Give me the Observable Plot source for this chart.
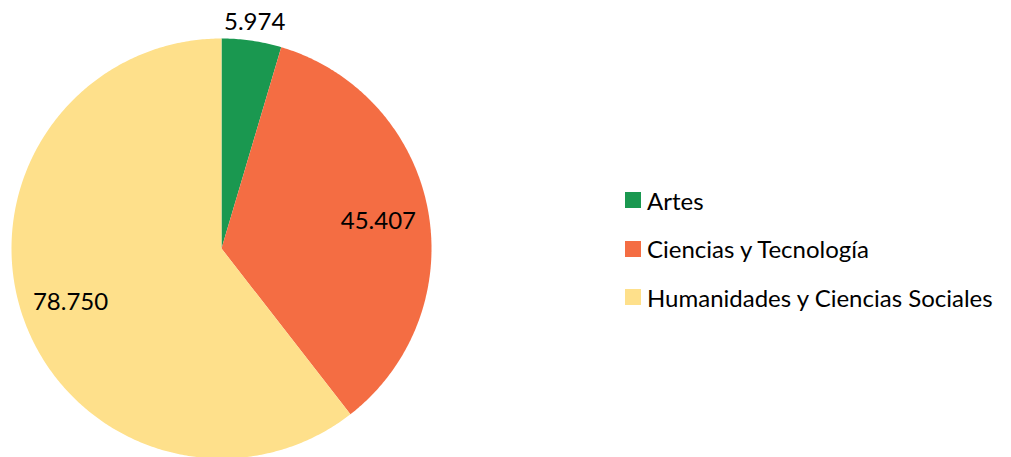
<!DOCTYPE html>
<html><head><meta charset="utf-8">
<script src="https://cdn.jsdelivr.net/npm/d3@7"></script>
<script src="https://cdn.jsdelivr.net/npm/@observablehq/plot@0.6"></script>
<style>
body{margin:0;background:#fff;font-family:Lato,"Open Sans",sans-serif;}
#wrap{position:relative;width:1011px;height:457px;overflow:hidden;}
#legend{position:absolute;left:625px;top:176px;font-size:24px;color:#000;}
.row{display:flex;align-items:center;height:48.5px;}
.sw{width:16px;height:16px;margin-right:6px;}
</style></head>
<body><div id="wrap"><div id="legend"></div></div>
<script>
const categories = ["Artes", "Ciencias y Tecnología", "Humanidades y Ciencias Sociales"];
const values = [5974, 45407, 78750];
const labels = ["5.974", "45.407", "78.750"];
const colors = ["#1a9850", "#f46d43", "#fee08b"];

const total = d3.sum(values);
const polys = [];
const texts = [];
let acc = 0;
categories.forEach((c, i) => {
  const a0 = acc / total * 2 * Math.PI;
  acc += values[i];
  const a1 = acc / total * 2 * Math.PI;
  polys.push({cat: c, x: 0, y: 0});
  const n = Math.max(4, Math.ceil((a1 - a0) / 0.01));
  for (let k = 0; k <= n; k++) {
    const a = a0 + (a1 - a0) * k / n;
    polys.push({cat: c, x: Math.sin(a), y: Math.cos(a)});
  }
  polys.push({cat: c, x: 0, y: 0});
  const am = (a0 + a1) / 2;
  const r = values[i] / total < 0.1 ? 1.1 : 0.76;
  texts.push({x: r * Math.sin(am), y: r * Math.cos(am), t: labels[i]});
});

const chart = Plot.plot({
  width: 1011, height: 457,
  marginLeft: 11, marginRight: 580, marginTop: 38, marginBottom: -1,
  x: {domain: [-1, 1], axis: null},
  y: {domain: [-1, 1], axis: null},
  color: {domain: categories, range: colors},
  style: {fontFamily: "Lato, 'Open Sans', sans-serif", background: "white", overflow: "visible"},
  marks: [
    Plot.line(polys, {x: "x", y: "y", z: "cat", fill: "cat", stroke: "none", curve: "linear-closed"}),
    Plot.text(texts, {x: "x", y: "y", text: "t", fontSize: 24, fill: "#000", dy: 2})
  ]
});
document.getElementById("wrap").prepend(chart);
const lg = document.getElementById("legend");
categories.forEach((c, i) => {
  const row = document.createElement("div"); row.className = "row";
  const sw = document.createElement("div"); sw.className = "sw"; sw.style.background = colors[i];
  const tx = document.createElement("span"); tx.textContent = c;
  row.append(sw, tx); lg.append(row);
});
</script></body></html>
